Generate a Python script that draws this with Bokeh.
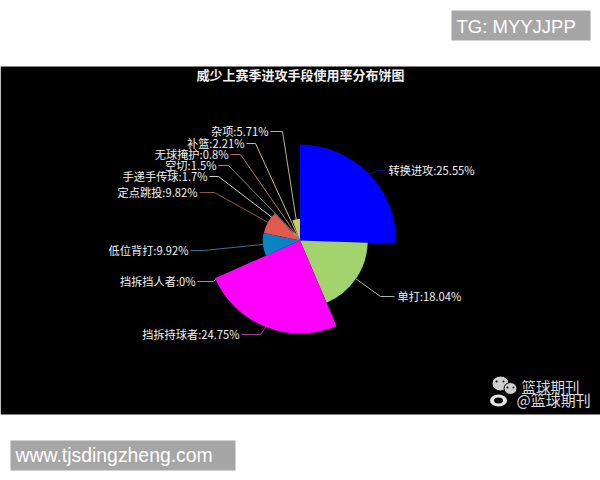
import math
from bokeh.plotting import figure
from bokeh.embed import file_html
from bokeh.resources import INLINE
from bokeh.core.properties import value

FONT = "Noto Sans CJK SC"

# Data
categories = ["转换进攻", "单打", "挡拆持球者", "挡拆挡人者", "低位背打", "定点跳投",
              "手递手传球", "空切", "无球掩护", "补篮", "杂项"]
shares = [25.55, 18.04, 24.75, 0, 9.92, 9.82, 1.7, 1.5, 0.8, 2.21, 5.71]
share_labels = ["25.55", "18.04", "24.75", "0", "9.92", "9.82", "1.7", "1.5", "0.8", "2.21", "5.71"]

# Styles / layout (page pixel coordinates)
slice_colors = ["#0000ff", "#a3d36c", "#ff00ff", "#8c8c8c", "#0a82c6", "#e05a50",
                "#d9d9d9", "#6fa89a", "#b0806a", "#cfc29a", "#c9cf58"]
line_colors = ["#12127a", "#a8b89a", "#a03a90", "#9a9a9a", "#3f6f88", "#8a5650",
               "#d0d0d0", "#6f9c90", "#a87c68", "#c8bc98", "#b4b48c"]
label_side = ["left", "left", "right", "right", "right", "right",
              "right", "right", "right", "right", "right"]
label_px = [388, 397, 239, 195, 188, 197, 207, 216, 228, 244, 268]
label_py = [169, 295, 333, 280, 249, 191, 175, 164, 153, 142, 130]
elbow_px = [378, 380, 260, 213, 203, 214, 218, 228, 240, 255, 282]

CX, CY, R_MAX = 299.5, 240, 96

def Y(py):
    return 480 - py

p = figure(width=600, height=480, x_range=(0, 600), y_range=(0, 480),
           output_backend="svg", toolbar_location=None, min_border=0,
           background_fill_color="white", border_fill_color="white",
           outline_line_color=None)
p.axis.visible = False
p.grid.visible = False

# Black picture band and grey caption boxes
p.quad(left=[0], right=[600], bottom=[Y(414)], top=[Y(66)], fill_color="#000000", line_color=None)
p.quad(left=[451, 10], right=[590, 235], bottom=[Y(40), Y(470)], top=[Y(10), Y(440)],
       fill_color="#a6a6a6", line_color=None)
p.text(x=[456], y=[Y(26)], text=["TG: MYYJJPP"],
       text_color="white", text_font=value("Liberation Sans"), text_font_size="18.5px",
       text_baseline="middle", text_align="left")
p.text(x=[15], y=[Y(454)], text=["www.tjsdingzheng.com"],
       text_color="white", text_font=value("Liberation Sans"), text_font_size="19.4px",
       text_baseline="middle", text_align="left")

# Title
p.text(x=[300], y=[Y(74)], text=["威少上赛季进攻手段使用率分布饼图"], text_color="#f0f0f0",
       text_font=value(FONT), text_font_size="13px", text_font_style="bold",
       text_align="center", text_baseline="middle")

# Rose pie: angle and radius both follow the share
total = sum(shares)
max_share = max(shares)
angle = math.pi / 2
starts, ends, radii, mids = [], [], [], []
for s in shares:
    sweep = s / total * 2 * math.pi
    starts.append(angle)
    ends.append(angle - sweep)
    mids.append(angle - sweep / 2)
    radii.append(s / max_share * R_MAX)
    angle -= sweep

# Leader lines
xs, ys = [], []
for i in range(len(shares)):
    reach = radii[i] if shares[i] > 0 else 90
    sx = CX + reach * math.cos(mids[i])
    sy = CY - reach * math.sin(mids[i])
    end_x = label_px[i] - 3 if label_side[i] == "left" else label_px[i] + 2
    xs.append([sx, elbow_px[i], end_x])
    ys.append([Y(sy), Y(label_py[i] + 1), Y(label_py[i] + 1)])
p.multi_line(xs=xs, ys=ys, line_color=line_colors, line_width=1)

p.wedge(x=[CX] * len(shares), y=[Y(CY)] * len(shares), radius=radii,
        start_angle=starts, end_angle=ends, direction="clock",
        fill_color=slice_colors, line_color=None)

# Labels
labels = [f"{c}:{v}%" for c, v in zip(categories, share_labels)]
p.text(x=label_px, y=[Y(v) for v in label_py], text=labels, text_color="#f2f2f2",
       text_font=value(FONT), text_font_size="11.2px", text_baseline="middle",
       text_align=label_side)

# Watermark
p.ellipse(x=[500, 510], y=[Y(383), Y(388)], width=[17, 13], height=[15, 12],
          fill_color="#cfcfcf", line_color="#000000", line_width=1)
p.ellipse(x=[496, 503, 507, 513], y=[Y(381), Y(381), Y(387), Y(387)], width=2, height=2,
          fill_color="#000000", line_color=None)
p.ellipse(x=[498], y=[Y(400)], width=[17], height=[12], fill_color="#e6e6e6", line_color=None)
p.ellipse(x=[498], y=[Y(400)], width=[9], height=[6], fill_color="#000000", line_color=None)
p.text(x=[521], y=[Y(386)], text=["篮球期刊"], text_color="#dcdcdc",
       text_font=value(FONT), text_font_size="14.5px", text_baseline="middle", text_align="left")
p.text(x=[516], y=[Y(399)], text=["@篮球期刊"], text_color="#dcdcdc",
       text_font=value(FONT), text_font_size="15px", text_baseline="middle", text_align="left")

open("out.html", "w").write(file_html(p, INLINE))
